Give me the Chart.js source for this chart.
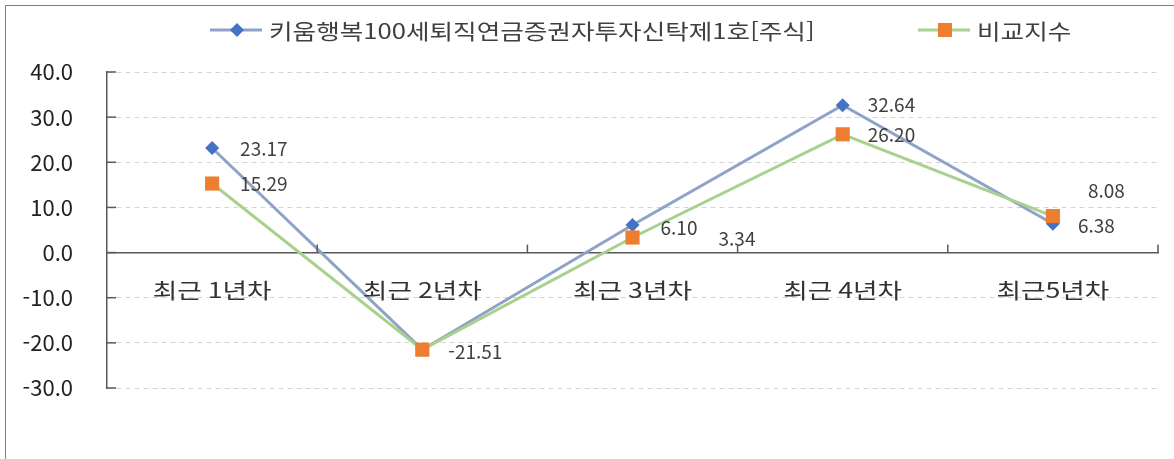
<!DOCTYPE html>
<html lang="ko">
<head>
<meta charset="UTF-8">
<title>수익률 비교</title>
<script src="https://cdn.jsdelivr.net/npm/chart.js"></script>
<style>
  html, body { margin: 0; padding: 0; background: #fff; }
  #wrap { position: relative; width: 1174px; height: 459px; overflow: hidden; }
  #frame { position: absolute; left: 5px; top: 5px; right: -5px; bottom: -5px;
           border-top: 1.5px solid #7f7f7f; border-left: 1.5px solid #7f7f7f; pointer-events: none; }
</style>
</head>
<body>
<div id="wrap">
  <canvas id="chart" width="1174" height="459"></canvas>
  <div id="frame"></div>
</div>
<script>
// 데이터
const categories = ['최근 1년차', '최근 2년차', '최근 3년차', '최근 4년차', '최근5년차'];
const fundName = '키움행복100세퇴직연금증권자투자신탁제1호[주식]';
const benchName = '비교지수';
const fundValues = [23.17, -21.51, 6.10, 32.64, 6.38];
const benchValues = [15.29, -21.51, 3.34, 26.20, 8.08];
const yTicks = [-30, -20, -10, 0, 10, 20, 30, 40];

// 라벨 위치 (점 기준 오프셋, px) - null 이면 표시 안함
const fundLabelOffsets = [[28, 1], [26, 2], [28, 3], [25, 0], [25, 2]];
const benchLabelOffsets = [[28, 0], null, [86, 1], [25, 0], [35, -25]];

const FONT = '"Noto Sans CJK KR", "Noto Sans", sans-serif';

// 가로로 넓게 그리는 글자 (원본 글꼴이 더 넓음)
function wideText(ctx, text, x, y, sx) {
  ctx.save();
  ctx.translate(x, y);
  ctx.scale(sx, 1);
  ctx.fillText(text, 0, 0);
  ctx.restore();
}

// 범례, 데이터 라벨, 항목 라벨, 눈금 그리기
const extras = {
  id: 'extras',
  afterDatasetsDraw(chart) {
    const ctx = chart.ctx;
    const x = chart.scales.x, y = chart.scales.y;
    const area = chart.chartArea;
    ctx.save();

    // 축 안쪽 눈금
    ctx.strokeStyle = '#595959';
    ctx.lineWidth = 1.5;
    yTicks.forEach(v => {
      const py = y.getPixelForValue(v);
      ctx.beginPath(); ctx.moveTo(area.left, py); ctx.lineTo(area.left + 9, py); ctx.stroke();
    });
    const zy = y.getPixelForValue(0);
    for (let i = 0; i < categories.length; i++) {
      const px = i < categories.length - 1
        ? (x.getPixelForTick(i) + x.getPixelForTick(i + 1)) / 2
        : area.right;
      ctx.beginPath(); ctx.moveTo(px, zy); ctx.lineTo(px, zy - 8); ctx.stroke();
    }

    // 항목 라벨
    ctx.font = '21px ' + FONT;
    ctx.fillStyle = '#333';
    ctx.textAlign = 'center';
    ctx.textBaseline = 'middle';
    categories.forEach((c, i) => wideText(ctx, c, x.getPixelForTick(i), zy + 37, 1.27));

    // 데이터 라벨
    ctx.font = '19px ' + FONT;
    ctx.fillStyle = '#404040';
    ctx.textAlign = 'left';
    [[0, fundValues, fundLabelOffsets], [1, benchValues, benchLabelOffsets]].forEach(([di, vals, offs]) => {
      const meta = chart.getDatasetMeta(di);
      vals.forEach((v, i) => {
        if (!offs[i]) return;
        const pt = meta.data[i];
        ctx.fillText(v.toFixed(2), pt.x + offs[i][0], pt.y + offs[i][1]);
      });
    });

    // 범례
    const ly = 30;
    const items = [
      { ds: chart.data.datasets[0], x0: 210 },
      { ds: chart.data.datasets[1], x0: 918 }
    ];
    ctx.font = '21px ' + FONT;
    items.forEach(it => {
      const ds = it.ds;
      ctx.strokeStyle = ds.borderColor;
      ctx.lineWidth = 3;
      ctx.beginPath(); ctx.moveTo(it.x0, ly); ctx.lineTo(it.x0 + 52, ly); ctx.stroke();
      ctx.fillStyle = ds.pointBackgroundColor;
      ctx.beginPath();
      if (ds.pointStyle === 'rectRot') {
        const r = 7, cx = it.x0 + 27;
        ctx.moveTo(cx, ly - r); ctx.lineTo(cx + r, ly); ctx.lineTo(cx, ly + r); ctx.lineTo(cx - r, ly);
        ctx.closePath();
      } else {
        ctx.rect(it.x0 + 20, ly - 7, 14, 14);
      }
      ctx.fill();
      ctx.fillStyle = '#404040';
      wideText(ctx, ds.label, it.x0 + 59, ly + 1, 1.22);
    });
    ctx.restore();
  }
};

new Chart(document.getElementById('chart'), {
  type: 'line',
  data: {
    labels: categories,
    datasets: [
      {
        label: fundName,
        data: fundValues,
        borderColor: '#8FA2C8',
        borderWidth: 3,
        pointStyle: 'rectRot',
        pointRadius: 7,
        pointBackgroundColor: '#4472C4',
        pointBorderColor: '#4472C4',
        pointBorderWidth: 0,
        tension: 0,
        order: 1
      },
      {
        label: benchName,
        data: benchValues,
        borderColor: '#A9D18E',
        borderWidth: 3,
        pointStyle: 'rect',
        pointRadius: 10,
        pointBackgroundColor: '#ED7D31',
        pointBorderColor: '#ED7D31',
        pointBorderWidth: 0,
        tension: 0,
        order: 0
      }
    ]
  },
  options: {
    responsive: false,
    animation: false,
    layout: { padding: { top: 72, bottom: 71, left: 0, right: 16 } },
    plugins: {
      legend: { display: false },
      tooltip: { enabled: false }
    },
    scales: {
      x: {
        position: { y: 0 },
        offset: true,
        grid: { display: false, drawTicks: false },
        border: { display: true, color: '#595959', width: 1.5 },
        ticks: { display: false }
      },
      y: {
        min: -30,
        max: 40,
        afterFit(scale) { scale.width = 107; },
        afterBuildTicks(scale) { scale.ticks = yTicks.map(v => ({ value: v })); },
        grid: {
          drawTicks: false,
          color: ctx => (ctx.tick && ctx.tick.value === 0) ? 'rgba(0,0,0,0)' : '#d4d4d4',
          lineWidth: 1
        },
        border: { display: true, color: '#595959', width: 1.5, dash: [5, 4] },
        ticks: {
          color: '#222',
          font: { family: FONT, size: 22 },
          padding: 34,
          callback: v => v.toFixed(1)
        }
      }
    }
  },
  plugins: [extras]
});
</script>
</body>
</html>
